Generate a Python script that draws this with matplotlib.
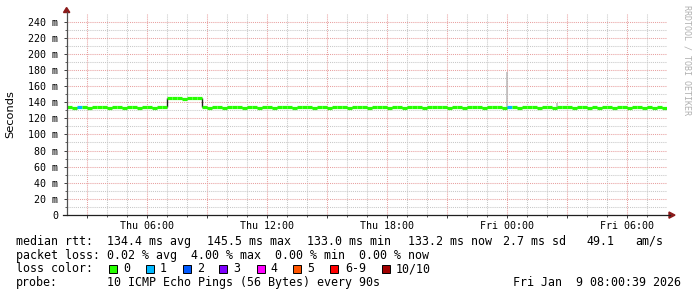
import matplotlib
matplotlib.use("Agg")
import matplotlib.pyplot as plt
import numpy as np
from matplotlib.lines import Line2D
from matplotlib.patches import Polygon, Rectangle
from matplotlib.collections import LineCollection
from matplotlib.ticker import FixedLocator, NullFormatter

W, H = 697, 297

# ---------------- data ----------------
# time axis: hours since Thu 02:00, 30 h window ending Fri 08:00
window_hours = 30
x_tick_hours = [4, 10, 16, 22, 28]
x_tick_labels = ["Thu 06:00", "Thu 12:00", "Thu 18:00", "Fri 00:00", "Fri 06:00"]
x_major_grid_hours = [1, 4, 7, 10, 13, 16, 19, 22, 25, 28]

y_ticks = [0, 20, 40, 60, 80, 100, 120, 140, 160, 180, 200, 220, 240]
y_tick_labels = ["0", "20 m", "40 m", "60 m", "80 m", "100 m", "120 m", "140 m",
                 "160 m", "180 m", "200 m", "220 m", "240 m"]
y_minor = [10, 30, 50, 70, 90, 110, 130, 150, 170, 190, 210, 230]

sample_hours = 0.25
median_ms = [
    133.6, 133.4, 133.7, 133.5, 133.3, 133.6, 133.5, 133.8, 133.4, 133.5,
    133.6, 133.3, 133.5, 133.7, 133.4, 133.6, 133.5, 133.4, 133.6, 133.5,
    145.2, 144.8, 145.0, 144.6, 145.1, 144.9, 144.7,
    133.5, 133.3, 133.6, 133.7, 133.4, 133.5, 133.8, 133.6, 133.3, 133.5,
    133.7, 133.4, 133.6, 133.5, 133.3, 133.6, 133.8, 133.5, 133.4, 133.6,
    133.5, 133.7, 133.3, 133.6, 133.5, 133.4, 133.7, 133.6, 133.5, 133.3,
    133.6, 133.8, 133.5, 133.4, 133.6, 133.5, 133.7, 133.4, 133.6, 133.5,
    133.3, 133.6, 133.5, 133.7, 133.4, 133.5, 133.6, 133.8, 133.5, 133.3,
    133.6, 133.5, 133.4, 133.7, 133.6, 133.5, 133.3, 133.6, 133.5, 133.7,
    133.4, 133.6, 133.5, 133.3, 133.6, 133.5, 133.7, 133.4, 133.6, 133.5,
    133.3, 133.6, 133.5, 133.7, 133.4, 133.5, 133.6, 133.3, 133.5, 133.4,
    133.6, 133.5, 133.3, 133.6, 133.7, 133.4, 133.5, 133.6, 133.3, 133.5,
    133.4, 133.6, 133.2,
]
loss_count = [0] * len(median_ms)
loss_count[2] = 1
loss_count[88] = 1

smoke_hours = [22.0, 24.5]
smoke_low = [134.0, 133.6]
smoke_high = [177.5, 139.5]

loss_labels = ["0", "1", "2", "3", "4", "5", "6-9", "10/10"]
loss_colors = ["#26ff00", "#00b8ff", "#0059ff", "#7e00ff", "#ff00ff",
               "#ff5500", "#ff0000", "#a10000"]

row1 = [("median rtt:", 16), ("134.4 ms avg", 107), ("145.5 ms max", 207.3),
        ("133.0 ms min", 307), ("133.2 ms now", 407.7), ("2.7 ms sd", 503.3),
        ("49.1", 586), ("am/s", 635)]
row2 = [("packet loss:", 16), ("0.02 % avg", 107), ("4.00 % max", 191),
        ("0.00 % min", 275), ("0.00 % now", 359)]
row4 = [("probe:", 16), ("10 ICMP Echo Pings (56 Bytes) every 90s", 107),
        ("Fri Jan  9 08:00:39 2026", 513.3)]
legend_box_x = [108.7, 145.7, 182.7, 219, 256.7, 293.3, 330, 381.7]
legend_label_x = [123, 160, 197, 233, 270.7, 307, 345, 396]

# ---------------- layout ----------------
plt.rcParams["font.family"] = ["DejaVu Sans Mono"]
fig = plt.figure(figsize=(W / 100, H / 100), dpi=100)
fig.patch.set_facecolor("white")

def fx(x):
    return x / W

def fy(y):
    return 1 - y / H

ax_left, ax_right, ax_bottom, ax_top = 66.5, 666.5, 215.0, 13.6
ax = fig.add_axes([fx(ax_left), fy(ax_bottom), (ax_right - ax_left) / W,
                   (ax_bottom - ax_top) / H])
ax.set_xlim(0, window_hours)
ax.set_ylim(0, 250)
ax.set_facecolor("white")
for s in ax.spines.values():
    s.set_visible(False)

ax.xaxis.set_major_locator(FixedLocator(x_major_grid_hours))
ax.set_xticklabels([x_tick_labels[x_tick_hours.index(h)] if h in x_tick_hours else ""
                    for h in x_major_grid_hours])
ax.xaxis.set_minor_locator(FixedLocator([h for h in range(1, window_hours)
                                         if h not in x_major_grid_hours]))
ax.xaxis.set_minor_formatter(NullFormatter())
ax.yaxis.set_major_locator(FixedLocator(y_ticks))
ax.set_yticklabels(y_tick_labels)
ax.yaxis.set_minor_locator(FixedLocator(y_minor))
ax.yaxis.set_minor_formatter(NullFormatter())

ax.tick_params(axis="both", which="major", labelsize=7.2, color="#404040",
               width=0.7, labelcolor="black")
ax.tick_params(axis="x", which="major", length=2.0, pad=2.6)
ax.tick_params(axis="y", which="major", length=2.5, pad=3.7)
ax.tick_params(axis="both", which="minor", length=1.2, width=0.7, color="#606060")

ax.grid(True, which="major", color="#e8a0a0", linestyle=(0, (1, 1)), linewidth=0.75)
ax.grid(True, which="minor", color="#c8c8c8", linestyle=(0, (1, 1)), linewidth=0.75)
ax.set_axisbelow(True)

# smoke spikes
ax.vlines(smoke_hours, smoke_low, smoke_high, color="#b8b8b8", linewidth=1.1, zorder=2)

# median line: step segments coloured by loss
t = np.arange(len(median_ms)) * sample_hours
segs = [[(t[i], median_ms[i]), (t[i] + sample_hours, median_ms[i])] for i in range(len(median_ms))]
cols = [loss_colors[loss_count[i] if loss_count[i] < 6 else (7 if loss_count[i] >= 10 else 6)]
        for i in range(len(median_ms))]
vx = t[1:]
ax.vlines(vx, median_ms[:-1], median_ms[1:], color="#202020", linewidth=1.0, zorder=3)
ax.add_collection(LineCollection(segs, colors=cols, linewidths=2.3, capstyle="butt", zorder=4))

# axis lines with arrows
fig.add_artist(Line2D([fx(66.5), fx(66.5)], [fy(215), fy(12)], color="#505050", linewidth=0.9))
fig.add_artist(Line2D([fx(63), fx(670)], [fy(215), fy(215)], color="#202020", linewidth=0.9))
fig.add_artist(Polygon([(fx(63.5), fy(12.5)), (fx(69.8), fy(12.5)), (fx(66.6), fy(7.5))],
                       closed=True, transform=fig.transFigure, color="#8b1a1a"))
fig.add_artist(Polygon([(fx(669), fy(212)), (fx(669), fy(218.2)), (fx(675), fy(215.1))],
                       closed=True, transform=fig.transFigure, color="#8b1a1a"))

# labels
fig.text(fx(10.5), fy(114), "Seconds", rotation=90, ha="center", va="center",
         fontsize=8.2, family="DejaVu Sans")
fig.text(fx(687.5), fy(60), "RRDTOOL / TOBI OETIKER", rotation=270, ha="center",
         va="center", fontsize=6.0, color="#b0b0b0")

fs = 8.37
for txt, x in row1:
    fig.text(fx(x), fy(245), txt, fontsize=fs, va="baseline")
for txt, x in row2:
    fig.text(fx(x), fy(258.7), txt, fontsize=fs, va="baseline")
fig.text(fx(16), fy(272.3), "loss color:", fontsize=fs, va="baseline")
for bx, lx, lab, c in zip(legend_box_x, legend_label_x, loss_labels, loss_colors):
    fig.add_artist(Rectangle((fx(bx), fy(273)), 8 / W, 8 / H, transform=fig.transFigure,
                             facecolor=c, edgecolor="black", linewidth=0.7))
    fig.text(fx(lx), fy(272.3), lab, fontsize=fs, va="baseline")
for txt, x in row4:
    fig.text(fx(x), fy(286), txt, fontsize=fs, va="baseline")

fig.savefig("out.png", dpi=100, facecolor="white")
